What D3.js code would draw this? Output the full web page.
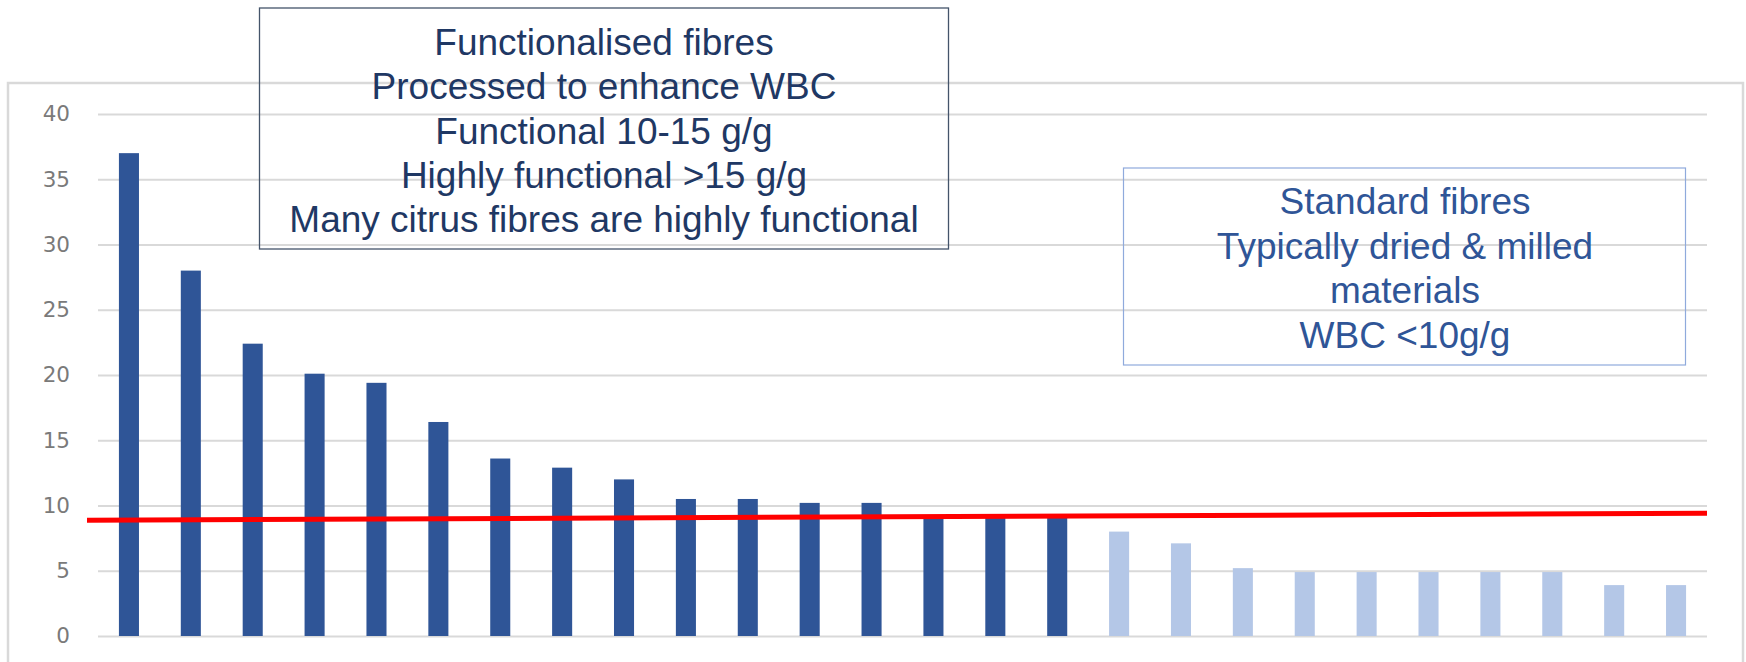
<!DOCTYPE html>
<html>
<head>
<meta charset="utf-8">
<script src="https://cdn.jsdelivr.net/npm/d3@7"></script>
<style>
  html, body { margin: 0; padding: 0; background: #ffffff; }
  svg { display: block; }
</style>
</head>
<body>
<svg id="chart" width="1746" height="662"></svg>
<script>
// ---- data ----
const categories = d3.range(1, 27).map(i => "F" + i);
const wbcValues = [37.0, 28.0, 22.4, 20.1, 19.4, 16.4, 13.6, 12.9, 12.0, 10.5, 10.5, 10.2, 10.2, 9.1, 9.1, 9.1,
                   8.0, 7.1, 5.2, 4.9, 4.9, 4.9, 4.9, 4.9, 3.9, 3.9];
const fibreGroup = ["functional","functional","functional","functional","functional","functional","functional","functional",
                    "functional","functional","functional","functional","functional","functional","functional","functional",
                    "standard","standard","standard","standard","standard","standard","standard","standard","standard","standard"];
const yTicks = [0, 5, 10, 15, 20, 25, 30, 35, 40];
const thresholdStart = 8.87;
const thresholdEnd = 9.4;
const functionalText = ["Functionalised fibres", "Processed to enhance WBC", "Functional 10-15 g/g",
                        "Highly functional >15 g/g", "Many citrus fibres are highly functional"];
const standardText = ["Standard fibres", "Typically dried & milled", "materials", "WBC <10g/g"];

// ---- chart ----
const svg = d3.select("#chart");
const groupColor = { functional: "#2F5597", standard: "#B4C7E7" };

// panel frame
svg.append("rect")
  .attr("x", 8).attr("y", 83).attr("width", 1735).attr("height", 620)
  .attr("fill", "#ffffff").attr("stroke", "#d9d9d9").attr("stroke-width", 2.5);

const x = d3.scaleBand().domain(categories).range([98, 1707]).paddingInner(0.676).paddingOuter(0.338);
const y = d3.scaleLinear().domain([0, 40]).range([636, 114]);

// gridlines + y labels via axis
const yAxis = d3.axisLeft(y).tickValues(yTicks).tickSize(-(1707 - 98)).tickPadding(28);
const gAxis = svg.append("g").attr("transform", "translate(98,0)").call(yAxis);
gAxis.select(".domain").remove();
gAxis.selectAll(".tick line").attr("stroke", "#d9d9d9").attr("stroke-width", 2);
gAxis.selectAll(".tick text")
  .attr("fill", "#7a7a7a")
  .style("font-family", "'DejaVu Sans', 'Open Sans', sans-serif")
  .style("font-size", "21.5px");

// bars
svg.append("g").selectAll("rect")
  .data(wbcValues)
  .join("rect")
  .attr("x", (d, i) => x(categories[i]))
  .attr("width", x.bandwidth())
  .attr("y", d => y(d))
  .attr("height", d => y(0) - y(d))
  .attr("fill", (d, i) => groupColor[fibreGroup[i]]);

// threshold red line
svg.append("line")
  .attr("x1", x.range()[0] - 11).attr("x2", x.range()[1])
  .attr("y1", y(thresholdStart)).attr("y2", y(thresholdEnd))
  .attr("stroke", "#ff0000").attr("stroke-width", 5);

// annotation box 1
svg.append("rect")
  .attr("x", 259.5).attr("y", 8).attr("width", 689).attr("height", 241)
  .attr("fill", "none").attr("stroke", "#44546A").attr("stroke-width", 1.3);
svg.append("g").selectAll("text")
  .data(functionalText)
  .join("text")
  .attr("x", 604).attr("y", (d, i) => 55 + i * 44.3)
  .attr("text-anchor", "middle")
  .attr("fill", "#1F3864")
  .style("font-family", "'Liberation Sans', Arial, sans-serif")
  .style("font-size", "37px")
  .text(d => d);

// annotation box 2
svg.append("rect")
  .attr("x", 1123.5).attr("y", 168).attr("width", 562).attr("height", 197)
  .attr("fill", "none").attr("stroke", "#8FAADC").attr("stroke-width", 1.2);
svg.append("g").selectAll("text")
  .data(standardText)
  .join("text")
  .attr("x", 1405).attr("y", (d, i) => 214 + i * 44.7)
  .attr("text-anchor", "middle")
  .attr("fill", "#2F5597")
  .style("font-family", "'Liberation Sans', Arial, sans-serif")
  .style("font-size", "37px")
  .text(d => d);
</script>
</body>
</html>
